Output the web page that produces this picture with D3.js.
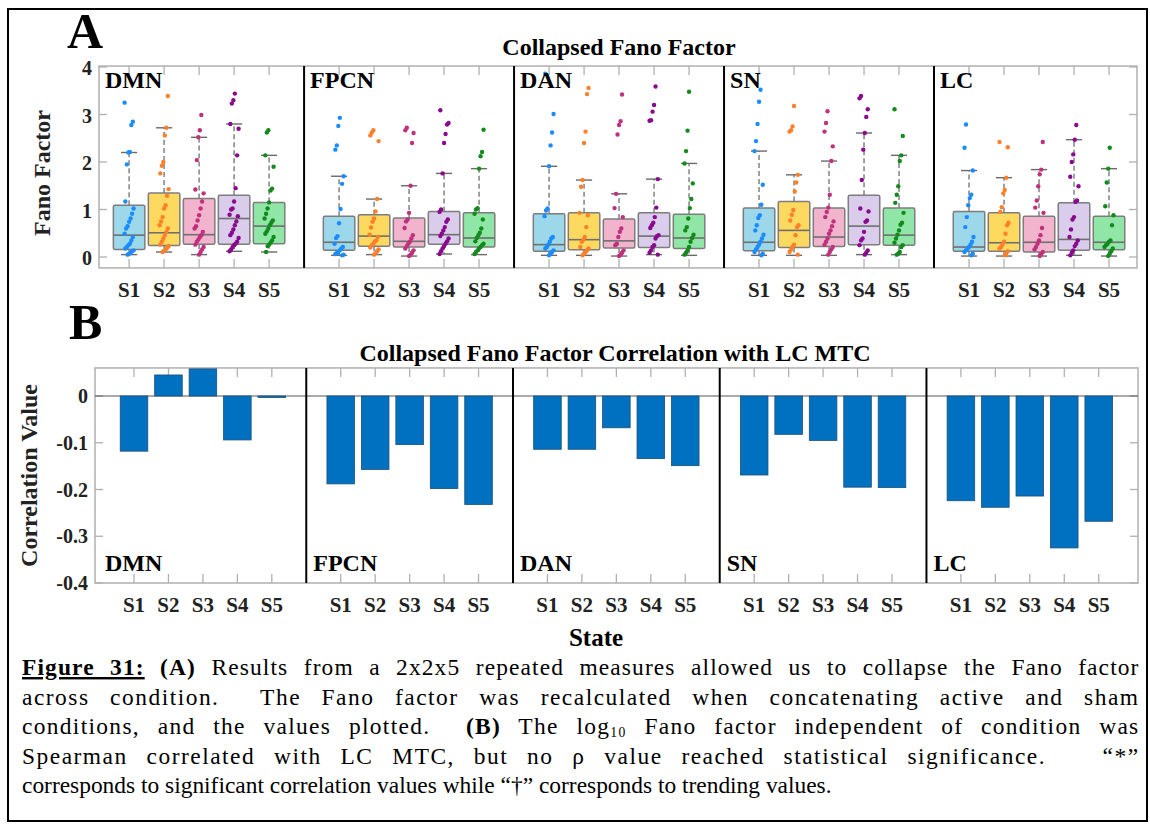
<!DOCTYPE html>
<html><head><meta charset="utf-8">
<script src="https://cdn.jsdelivr.net/npm/d3@7"></script>
<style>
body{margin:0;background:#fff}
svg{display:block}
</style>
</head><body>
<svg id="chart" width="1150" height="828"></svg>
<script>
// ---------------- DATA ----------------
const networks = ["DMN","FPCN","DAN","SN","LC"];
const states = ["S1","S2","S3","S4","S5"];
const fanoTicks = [0,1,2,3,4];
const corrTicks = [0,-0.1,-0.2,-0.3,-0.4];

// Panel A: box statistics per network (S1..S5)
const boxQ1  = [[0.16,0.24,0.27,0.27,0.28],[0.14,0.225,0.21,0.27,0.21],[0.12,0.155,0.19,0.2,0.18],[0.13,0.2,0.22,0.26,0.25],[0.12,0.12,0.105,0.14,0.155]];
const boxMed = [[0.46,0.51,0.47,0.81,0.65],[0.31,0.44,0.33,0.47,0.4],[0.26,0.365,0.34,0.44,0.4],[0.31,0.56,0.42,0.65,0.46],[0.21,0.3,0.31,0.37,0.31]];
const boxQ3  = [[1.09,1.35,1.23,1.3,1.15],[0.86,0.89,0.82,0.96,0.93],[0.91,0.93,0.8,0.93,0.9],[1.03,1.17,1.03,1.3,1.03],[0.96,0.93,0.86,1.14,0.86]];
const whiskLo= [[0.05,0.105,0.05,0.12,0.105],[0.035,0.05,0.02,0.063,0.05],[0.035,0.035,0.02,0.05,0.035],[0.035,0.035,0.035,0.05,0.05],[0.02,0.02,0.02,0.035,0.02]];
const whiskHi= [[2.2,2.72,2.52,2.8,2.14],[1.7,1.22,1.5,1.76,1.86],[1.91,1.62,1.33,1.64,1.97],[2.23,1.73,2.02,2.61,2.14],[1.82,1.67,1.84,2.47,1.86]];

// Panel A: individual Fano factor values
const dmnPoints = [
 [3.25,2.85,2.78,2.21,2.2,1.95,1.17,1.02,0.91,0.81,0.74,0.65,0.6,0.49,0.42,0.35,0.28,0.25,0.21,0.18,0.14,0.12,0.09,0.07,0.05],
 [3.39,2.72,2.56,2.0,1.92,1.76,1.43,1.29,1.09,1.02,0.84,0.75,0.67,0.6,0.53,0.46,0.39,0.32,0.26,0.23,0.19,0.16,0.13,0.105],
 [2.99,2.67,2.52,2.04,1.42,1.34,1.17,1.02,0.88,0.77,0.65,0.6,0.53,0.46,0.42,0.37,0.32,0.26,0.21,0.16,0.105,0.05],
 [3.44,3.3,3.23,2.8,2.7,2.14,1.45,1.17,1.02,1.0,0.89,0.86,0.75,0.67,0.58,0.51,0.46,0.4,0.32,0.28,0.25,0.21,0.16,0.12],
 [2.67,2.62,2.14,1.9,1.44,1.4,1.15,1.02,0.91,0.81,0.77,0.72,0.67,0.6,0.54,0.49,0.42,0.35,0.3,0.26,0.23,0.105]
];
const fpcnPoints = [
 [2.93,2.76,2.35,2.26,1.7,1.54,1.01,0.71,0.44,0.4,0.28,0.21,0.18,0.14,0.105,0.084,0.063,0.05,0.035],
 [2.67,2.62,2.56,2.44,1.22,0.96,0.81,0.74,0.62,0.47,0.42,0.35,0.32,0.28,0.25,0.2,0.16,0.12,0.077,0.05],
 [2.72,2.67,2.61,2.4,1.5,0.93,0.79,0.75,0.61,0.46,0.39,0.32,0.28,0.23,0.18,0.14,0.09,0.05,0.02],
 [3.09,2.82,2.79,2.59,2.4,1.76,1.0,0.95,0.79,0.74,0.63,0.56,0.49,0.44,0.39,0.33,0.28,0.23,0.18,0.12,0.063],
 [2.68,2.21,2.12,1.86,1.03,1.0,0.91,0.79,0.6,0.51,0.46,0.4,0.33,0.28,0.25,0.21,0.18,0.14,0.105,0.063]
];
const danPoints = [
 [3.86,3.01,2.62,2.35,1.91,1.02,0.98,0.86,0.42,0.39,0.32,0.26,0.21,0.18,0.14,0.105,0.07,0.035],
 [3.56,3.43,2.64,2.4,1.62,1.48,0.93,0.88,0.63,0.42,0.365,0.32,0.21,0.18,0.14,0.105,0.07,0.035],
 [3.42,2.86,2.78,2.58,1.33,1.03,0.84,0.6,0.53,0.42,0.28,0.25,0.14,0.09,0.05,0.02],
 [3.59,3.2,3.06,2.88,2.87,1.64,1.04,0.84,0.72,0.67,0.61,0.46,0.44,0.39,0.25,0.21,0.14,0.09,0.05],
 [3.48,2.66,2.23,1.97,1.55,1.22,1.03,0.81,0.63,0.56,0.47,0.4,0.32,0.21,0.14,0.09,0.05]
];
const snPoints = [
 [3.52,3.27,2.8,2.44,2.23,1.52,1.1,0.88,0.82,0.67,0.56,0.47,0.39,0.32,0.26,0.21,0.16,0.105,0.07,0.035],
 [3.18,2.75,2.67,2.64,1.73,1.57,1.38,0.99,0.89,0.77,0.67,0.63,0.46,0.26,0.21,0.16,0.105,0.05],
 [3.07,2.82,2.64,2.33,2.02,1.31,1.04,0.95,0.84,0.75,0.65,0.56,0.49,0.39,0.32,0.26,0.21,0.16,0.105,0.05],
 [3.39,3.34,3.11,2.95,2.61,2.26,1.62,1.02,0.96,0.77,0.74,0.53,0.39,0.35,0.25,0.14,0.09,0.05],
 [3.11,2.55,2.14,2.02,1.49,1.31,1.14,0.93,0.72,0.68,0.56,0.47,0.39,0.3,0.25,0.21,0.105,0.07,0.05]
];
const lcPoints = [
 [2.79,2.3,1.82,1.31,1.24,1.09,0.84,0.63,0.42,0.32,0.26,0.21,0.18,0.14,0.105,0.07,0.035],
 [2.42,2.31,1.67,1.41,1.34,1.05,0.95,0.72,0.67,0.49,0.32,0.26,0.21,0.18,0.12,0.07,0.035],
 [2.42,1.84,1.74,1.49,1.19,1.04,0.93,0.61,0.46,0.35,0.28,0.21,0.16,0.105,0.063,0.02],
 [2.78,2.47,2.16,2.0,1.69,1.49,1.19,1.16,0.84,0.79,0.58,0.42,0.35,0.28,0.23,0.14,0.09,0.035],
 [2.3,1.86,1.57,1.07,0.88,0.67,0.35,0.32,0.28,0.25,0.21,0.18,0.12,0.07,0.02]
];
const allPoints = [dmnPoints, fpcnPoints, danPoints, snPoints, lcPoints];

// Panel B: Spearman correlation with LC MTC
const corrDMN  = [-0.118, 0.045, 0.058,-0.094,-0.003];
const corrFPCN = [-0.188,-0.157,-0.104,-0.198,-0.232];
const corrDAN  = [-0.114,-0.114,-0.068,-0.134,-0.149];
const corrSN   = [-0.169,-0.082,-0.095,-0.195,-0.196];
const corrLC   = [-0.224,-0.238,-0.214,-0.325,-0.268];
const allCorr = [corrDMN, corrFPCN, corrDAN, corrSN, corrLC];

// Caption
const captionLines = [
 [{t:"Figure 31:",b:1,u:1},{t:" (A)",b:1},{t:" Results from a 2x2x5 repeated measures allowed us to collapse the Fano factor"}],
 [{t:"across condition.  The Fano factor was recalculated when concatenating active and sham"}],
 [{t:"conditions, and the values plotted.  "},{t:"(B)",b:1},{t:" The log"},{t:"10",sub:1},{t:" Fano factor independent of condition was"}],
 [{t:"Spearman correlated with LC MTC, but no \u03C1 value reached statistical significance.   \u201C*\u201D"}],
 [{t:"corresponds to significant correlation values while \u201C\u2020\u201D corresponds to trending values."}]
];

// ---------------- STYLE ----------------
const FONT = '"Liberation Serif", "Times New Roman", serif';
const boxFill  = ["#9dd7ea","#fed95f","#f2b3cc","#d9cdeb","#90e6a6"];
const dotColor = ["#1a8cff","#ff7f2a","#c0307c","#8a0a8f","#128a1c"];
const frameCol = "#b0b0b0";

const svg = d3.select("#chart");
const pos = (g,s) => g*6 + s + 1;
function txt(parent){ return parent.append("text").style("font-family",FONT); }

// outer border
svg.append("rect").attr("x",8).attr("y",9).attr("width",1139).attr("height",812)
  .attr("fill","none").attr("stroke","#000").attr("stroke-width",2);

// ================= PANEL A =================
const xA = d3.scaleLinear().domain([0.14,29.8]).range([99,1137]);
const yA = d3.scaleLinear().domain([0,4]).range([257,67]);
const topA = yA(4.02), botA = yA(-0.23);
const gA = svg.append("g");

txt(gA).attr("x",67).attr("y",48).attr("font-size",50).attr("font-weight","bold").text("A");
txt(gA).attr("x",619).attr("y",55).attr("text-anchor","middle").attr("font-size",24).attr("font-weight","bold").text("Collapsed Fano Factor");

gA.append("rect").attr("x",xA.range()[0]).attr("y",topA).attr("width",xA.range()[1]-xA.range()[0]).attr("height",botA-topA)
  .attr("fill","none").attr("stroke",frameCol).attr("stroke-width",1.5);

fanoTicks.forEach(t=>{
  gA.append("line").attr("x1",xA.range()[0]).attr("x2",xA.range()[0]+8).attr("y1",yA(t)).attr("y2",yA(t)).attr("stroke",frameCol).attr("stroke-width",1.3);
  gA.append("line").attr("x1",xA.range()[1]).attr("x2",xA.range()[1]-8).attr("y1",yA(t)).attr("y2",yA(t)).attr("stroke",frameCol).attr("stroke-width",1.3);
  txt(gA).attr("x",92).attr("y",yA(t)+8).attr("text-anchor","end").attr("font-size",20).attr("font-weight","bold").attr("fill","#222").text(t);
});
txt(gA).attr("transform",`translate(50,${(topA+botA)/2+6}) rotate(-90)`).attr("text-anchor","middle")
  .attr("font-size",24).attr("font-weight","bold").attr("fill","#222").text("Fano Factor");

networks.forEach((net,g)=>{
  states.forEach((st,s)=>{
    const cx = xA(pos(g,s));
    gA.append("line").attr("x1",cx).attr("x2",cx).attr("y1",topA).attr("y2",topA+9).attr("stroke",frameCol).attr("stroke-width",1.3);
    gA.append("line").attr("x1",cx).attr("x2",cx).attr("y1",botA).attr("y2",botA-9).attr("stroke",frameCol).attr("stroke-width",1.3);
    txt(gA).attr("x",cx).attr("y",297).attr("text-anchor","middle").attr("font-size",21).attr("font-weight","bold").attr("fill","#222").text(st);
  });
});

const unitA = xA(2)-xA(1);
networks.forEach((net,g)=>{
  states.forEach((st,s)=>{
    const cx = xA(pos(g,s));
    const bw = unitA*0.9, cw = unitA*0.46;
    gA.append("line").attr("x1",cx).attr("x2",cx).attr("y1",yA(boxQ3[g][s])).attr("y2",yA(whiskHi[g][s]))
      .attr("stroke","#7a7a7a").attr("stroke-width",1.4).attr("stroke-dasharray","5,3");
    gA.append("line").attr("x1",cx).attr("x2",cx).attr("y1",yA(boxQ1[g][s])).attr("y2",yA(whiskLo[g][s]))
      .attr("stroke","#7a7a7a").attr("stroke-width",1.4).attr("stroke-dasharray","5,3");
    [whiskHi[g][s], whiskLo[g][s]].forEach(v=>{
      gA.append("line").attr("x1",cx-cw/2).attr("x2",cx+cw/2).attr("y1",yA(v)).attr("y2",yA(v)).attr("stroke","#6a6a6a").attr("stroke-width",1.4);
    });
    gA.append("rect").attr("x",cx-bw/2).attr("y",yA(boxQ3[g][s])).attr("width",bw).attr("height",yA(boxQ1[g][s])-yA(boxQ3[g][s]))
      .attr("rx",1.5).attr("fill",boxFill[s]).attr("stroke","#7d7d7d").attr("stroke-width",1.5);
    gA.append("line").attr("x1",cx-bw/2).attr("x2",cx+bw/2).attr("y1",yA(boxMed[g][s])).attr("y2",yA(boxMed[g][s]))
      .attr("stroke","#6f6f6f").attr("stroke-width",1.6);
    gA.selectAll(null).data(allPoints[g][s]).enter().append("circle")
      .attr("cx",(d,i)=>cx + ((((i*37 + s*11 + g*7) % 13) - 6) * 0.75))
      .attr("cy",d=>yA(d)).attr("r",2.2).attr("fill",dotColor[s]);
  });
  if(g>0){
    const dx = xA(g*6);
    gA.append("line").attr("x1",dx).attr("x2",dx).attr("y1",topA).attr("y2",botA).attr("stroke","#000").attr("stroke-width",2);
  }
  const lx = (g===0? xA.range()[0] : xA(g*6)) + 6;
  txt(gA).attr("x",lx).attr("y",88).attr("font-size",24).attr("font-weight","bold").text(net);
});

// ================= PANEL B =================
const xB = d3.scaleLinear().domain([-0.132,30.14]).range([95,1138]);
const yB = d3.scaleLinear().domain([0,-0.4]).range([396,583]);
const topB = yB(0.06), botB = yB(-0.4);
const gB = svg.append("g");

txt(gB).attr("x",69).attr("y",339).attr("font-size",50).attr("font-weight","bold").text("B");
txt(gB).attr("x",615).attr("y",361).attr("text-anchor","middle").attr("font-size",24).attr("font-weight","bold").text("Collapsed Fano Factor Correlation with LC MTC");

gB.append("rect").attr("x",xB.range()[0]).attr("y",topB).attr("width",xB.range()[1]-xB.range()[0]).attr("height",botB-topB)
  .attr("fill","none").attr("stroke",frameCol).attr("stroke-width",1.5);

corrTicks.forEach(t=>{
  gB.append("line").attr("x1",xB.range()[0]).attr("x2",xB.range()[0]+8).attr("y1",yB(t)).attr("y2",yB(t)).attr("stroke",frameCol).attr("stroke-width",1.3);
  gB.append("line").attr("x1",xB.range()[1]).attr("x2",xB.range()[1]-8).attr("y1",yB(t)).attr("y2",yB(t)).attr("stroke",frameCol).attr("stroke-width",1.3);
  txt(gB).attr("x",88).attr("y",yB(t)+7).attr("text-anchor","end").attr("font-size",20).attr("font-weight","bold").attr("fill","#222")
    .text(t===0?"0":d3.format(".1f")(t).replace("\u2212","-"));
});
txt(gB).attr("transform",`translate(37,${(topB+botB)/2}) rotate(-90)`).attr("text-anchor","middle")
  .attr("font-size",24).attr("font-weight","bold").attr("fill","#222").text("Correlation Value");

const clipB = svg.append("defs").append("clipPath").attr("id","clipB");
clipB.append("rect").attr("x",xB.range()[0]).attr("y",topB).attr("width",xB.range()[1]-xB.range()[0]).attr("height",botB-topB);

const unitB = xB(2)-xB(1);
networks.forEach((net,g)=>{
  states.forEach((st,s)=>{
    const cx = xB(pos(g,s));
    gB.append("line").attr("x1",cx).attr("x2",cx).attr("y1",topB).attr("y2",topB+9).attr("stroke",frameCol).attr("stroke-width",1.3);
    gB.append("line").attr("x1",cx).attr("x2",cx).attr("y1",botB).attr("y2",botB-9).attr("stroke",frameCol).attr("stroke-width",1.3);
    txt(gB).attr("x",cx).attr("y",612).attr("text-anchor","middle").attr("font-size",21).attr("font-weight","bold").attr("fill","#222").text(st);
  });
});
gB.append("line").attr("x1",xB.range()[0]).attr("x2",xB.range()[1]).attr("y1",yB(0)).attr("y2",yB(0)).attr("stroke","#555").attr("stroke-width",1);

networks.forEach((net,g)=>{
  gB.append("g").attr("clip-path","url(#clipB)").selectAll("rect").data(allCorr[g]).enter().append("rect")
    .attr("x",(d,s)=>xB(pos(g,s)) - unitB*0.4)
    .attr("width",unitB*0.8)
    .attr("y",d=>yB(Math.max(0,d)))
    .attr("height",d=>Math.abs(yB(d)-yB(0)))
    .attr("fill","#0070c0").attr("stroke","#1d4f78").attr("stroke-width",0.8);
  if(g>0){
    const dx = xB(g*6);
    gB.append("line").attr("x1",dx).attr("x2",dx).attr("y1",topB).attr("y2",botB).attr("stroke","#000").attr("stroke-width",2);
  }
  const lx = (g===0? xB.range()[0]+10 : xB(g*6)+7);
  txt(gB).attr("x",lx).attr("y",571).attr("font-size",24).attr("font-weight","bold").text(net);
});

txt(gB).attr("x",596).attr("y",646).attr("text-anchor","middle").attr("font-size",25).attr("font-weight","bold").text("State");

// ================= CAPTION =================
const capX = 22, capW = 1118, capY0 = 675, capDY = 29.5, capFont = 24;
const capTexts = captionLines.map((line,li)=>{
  const t = txt(svg).attr("font-size",capFont).style("white-space","pre").attr("fill","#000");
  line.forEach((seg,k)=>{
    const ts = t.append("tspan").text(seg.t);
    if(seg.b) ts.attr("font-weight","bold");
    if(seg.u) ts.style("text-decoration","underline");
    if(seg.sub) ts.attr("font-size",14).attr("dy",3);
    else if(k>0 && line[k-1].sub) ts.attr("dy",-3);
  });
  return t;
});
const lastW = capTexts[4].node().getComputedTextLength();
const sx = 810/lastW;
capTexts.forEach((t,li)=>{
  const nat = t.node().getComputedTextLength();
  const str = captionLines[li].map(s=>s.t).join("");
  const nsp = (str.match(/ /g)||[]).length;
  if(li<4){
    const extra = capW/sx - nat;
    const ls = Math.max(0, 0.45*extra/str.length);
    const ws = (extra - ls*str.length)/nsp;
    t.style("letter-spacing", ls+"px").style("word-spacing", ws+"px");
  }
  t.attr("transform",`translate(${capX},${capY0+li*capDY}) scale(${sx},1)`);
});
</script>
</body></html>
